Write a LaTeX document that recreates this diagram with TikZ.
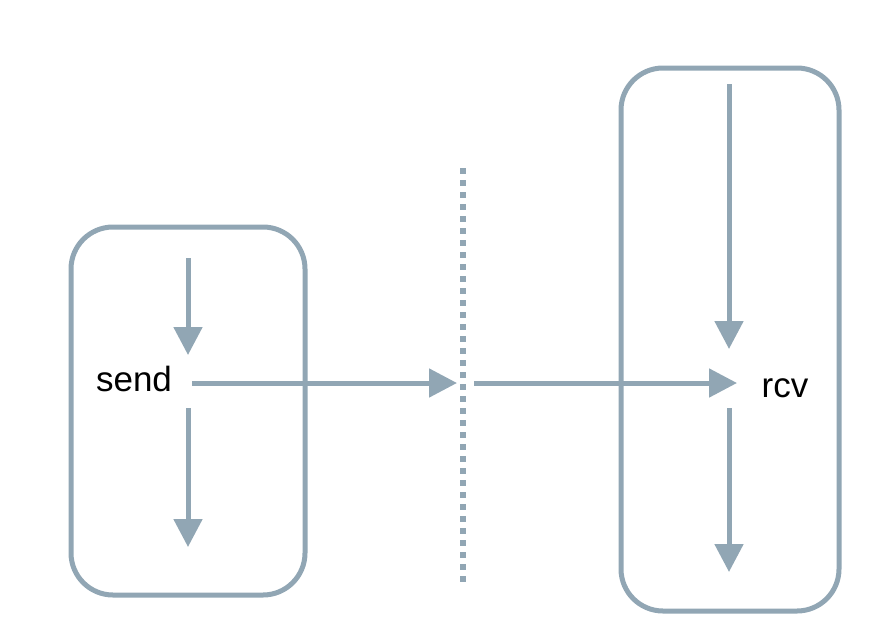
\documentclass[tikz,border=0pt]{standalone}
\usepackage{fontspec}
\setmainfont{Liberation Sans}
\usetikzlibrary{arrows.meta}
\definecolor{flow}{RGB}{145,166,180}
\tikzset{
  lane/.style={draw=flow, line width=5pt, rounded corners=42pt, fill=white},
  flowarrow/.style={draw=flow, line width=5pt, -{Triangle[length=28pt,width=28pt]}},
  label/.style={font=\fontsize{35}{42}\selectfont, text=black, inner sep=0pt, anchor=base},
  divider/.style={draw=flow, line width=6pt, dash pattern=on 6pt off 6pt}
}
\begin{document}
\begin{tikzpicture}[x=1pt,y=-1pt]
\useasboundingbox (0,0) rectangle (882,640);
% boxes
\node[lane, minimum width=234pt, minimum height=368pt] (leftbox) at (188,411) {};
\node[lane, minimum width=218pt, minimum height=543pt] (rightbox) at (730,339.5) {};
% labels
\node[label] (send) at (134,391) {send};
\node[label] (rcv) at (785,397) {rcv};
% coordinates
\coordinate (ls1) at (188,258);
\coordinate (le1) at (188,355);
\coordinate (ls2) at (188,408);
\coordinate (le2) at (188,547);
\coordinate (rs1) at (729,84);
\coordinate (re1) at (729,349);
\coordinate (rs2) at (729,408);
\coordinate (re2) at (729,572);
\coordinate (hs1) at (192,383);
\coordinate (he1) at (457,383);
\coordinate (hs2) at (474,383);
\coordinate (he2) at (737,383);
\coordinate (dtop) at (463,168);
\coordinate (dbot) at (463,586);
% divider
\draw[divider] (dtop) -- (dbot);
% arrows
\draw[flowarrow] (ls1) -- (le1);
\draw[flowarrow] (ls2) -- (le2);
\draw[flowarrow] (rs1) -- (re1);
\draw[flowarrow] (rs2) -- (re2);
\draw[flowarrow] (hs1) -- (he1);
\draw[flowarrow] (hs2) -- (he2);
\end{tikzpicture}
\end{document}
